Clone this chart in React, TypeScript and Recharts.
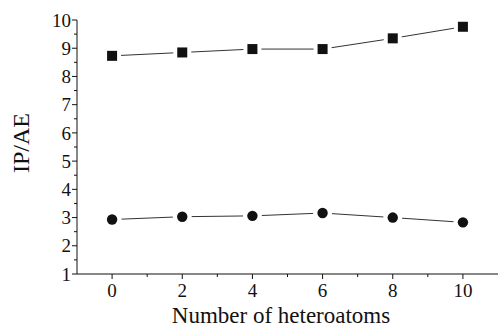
import React from 'react';
import { LineChart, Line, XAxis, YAxis, Label } from 'recharts';

const heteroatoms = [0, 2, 4, 6, 8, 10];
const ipValues = [8.73, 8.85, 8.97, 8.97, 9.35, 9.76];
const aeValues = [2.93, 3.03, 3.06, 3.16, 3.0, 2.83];

const xTicks = [0, 1, 2, 3, 4, 5, 6, 7, 8, 9, 10];
const yTicks = [1, 1.5, 2, 2.5, 3, 3.5, 4, 4.5, 5, 5.5, 6, 6.5, 7, 7.5, 8, 8.5, 9, 9.5, 10];

const data = heteroatoms.map((n, i) => ({ n, ip: ipValues[i], ae: aeValues[i] }));

const FONT = '"Liberation Serif", "Times New Roman", serif';
const INK = '#111';

// draw major/minor tick marks ourselves, labels only on majors
function renderXTick(props: any) {
  const { x, y, payload, index } = props;
  const major = payload.value % 2 === 0;
  return (
    <g key={`xt-${index}`}>
      <line x1={x} x2={x} y1={y} y2={y + (major ? 5 : 3)} stroke={INK} strokeWidth={1} />
      {major && (
        <text x={x} y={y + 23} textAnchor="middle" style={{ fontFamily: FONT, fontSize: 19 }} fill={INK}>
          {payload.value}
        </text>
      )}
    </g>
  );
}

function renderYTick(props: any) {
  const { x, y, payload, index } = props;
  const major = Number.isInteger(payload.value);
  return (
    <g key={`yt-${index}`}>
      <line x1={x - (major ? 5 : 3)} x2={x} y1={y} y2={y} stroke={INK} strokeWidth={1} />
      {major && (
        <text x={x - 6} y={y} dy="0.35em" textAnchor="end" style={{ fontFamily: FONT, fontSize: 19 }} fill={INK}>
          {payload.value}
        </text>
      )}
    </g>
  );
}

function SquareDot(props: any) {
  const { cx, cy, index } = props;
  return (
    <g key={`sq-${index}`}>
      <rect x={cx - 9} y={cy - 9} width={18} height={18} fill="#fff" />
      <rect x={cx - 5} y={cy - 5} width={10} height={10} fill={INK} />
    </g>
  );
}

function CircleDot(props: any) {
  const { cx, cy, index } = props;
  return (
    <g key={`ci-${index}`}>
      <circle cx={cx} cy={cy} r={9.5} fill="#fff" />
      <circle cx={cx} cy={cy} r={5.2} fill={INK} />
    </g>
  );
}

export default function App() {
  return (
    <div style={{ position: 'absolute', left: 0, top: 0, background: '#fff' }}>
      <LineChart width={498} height={329} data={data} margin={{ top: 20, right: 0, bottom: 0, left: 0 }}>
        <XAxis
          dataKey="n"
          type="number"
          domain={[-1, 11]}
          ticks={xTicks}
          interval={0}
          height={55}
          tickSize={0}
          tickMargin={0}
          tickLine={false}
          tick={renderXTick}
          stroke={INK}
        >
          <Label
            content={() => (
              <text x={281} y={323} textAnchor="middle" style={{ fontFamily: FONT, fontSize: 23 }} fill={INK}>
                Number of heteroatoms
              </text>
            )}
          />
        </XAxis>
        <YAxis
          type="number"
          domain={[1, 10]}
          ticks={yTicks}
          interval={0}
          width={77}
          tickSize={0}
          tickMargin={0}
          tickLine={false}
          tick={renderYTick}
          stroke={INK}
        >
          <Label
            content={() => (
              <text
                x={29}
                y={143}
                transform="rotate(-90 29 143)"
                textAnchor="middle"
                style={{ fontFamily: FONT, fontSize: 24 }}
                fill={INK}
              >
                IP/AE
              </text>
            )}
          />
        </YAxis>
        <Line dataKey="ip" stroke="#333" strokeWidth={1} dot={SquareDot} activeDot={false} isAnimationActive={false} />
        <Line dataKey="ae" stroke="#333" strokeWidth={1} dot={CircleDot} activeDot={false} isAnimationActive={false} />
      </LineChart>
    </div>
  );
}
